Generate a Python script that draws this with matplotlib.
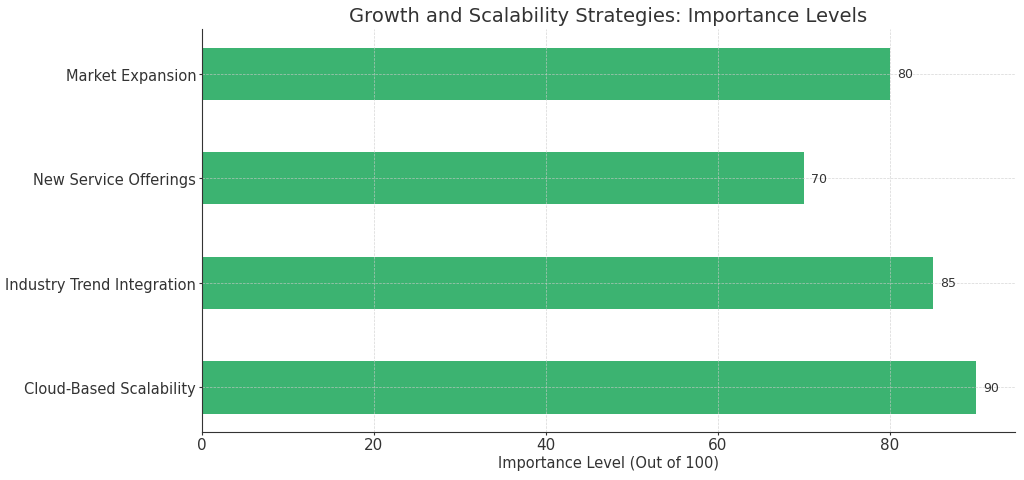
import matplotlib.pyplot as plt

strategies = ['Cloud-Based Scalability', 'Industry Trend Integration',
              'New Service Offerings', 'Market Expansion']
importance = [90, 85, 70, 80]

plt.rcParams['text.color'] = '#333333'
plt.rcParams['axes.labelcolor'] = '#333333'
plt.rcParams['xtick.color'] = '#333333'
plt.rcParams['ytick.color'] = '#333333'

fig, ax = plt.subplots(figsize=(10.24, 4.81), dpi=100)
fig.subplots_adjust(left=0.197, right=0.991, top=0.937, bottom=0.1)

bars = ax.barh(strategies, importance, height=0.5, color='#3CB371')
for bar, val in zip(bars, importance):
    ax.text(bar.get_width() + 0.8, bar.get_y() + bar.get_height() / 2, str(val),
            va='center', ha='left', fontsize=9)

ax.set_title('Growth and Scalability Strategies: Importance Levels', fontsize=14)
ax.set_xlabel('Importance Level (Out of 100)', fontsize=10.5, labelpad=2)
ax.tick_params(axis='y', labelsize=10.5, length=2, pad=2)
ax.tick_params(axis='x', labelsize=11, length=2, pad=1.5)
ax.grid(True, linestyle='--', linewidth=0.5, color='#cccccc', alpha=0.8)
for side in ['top', 'right']:
    ax.spines[side].set_visible(False)
for side in ['left', 'bottom']:
    ax.spines[side].set_color('#333333')

plt.savefig('out.png', dpi=100)
